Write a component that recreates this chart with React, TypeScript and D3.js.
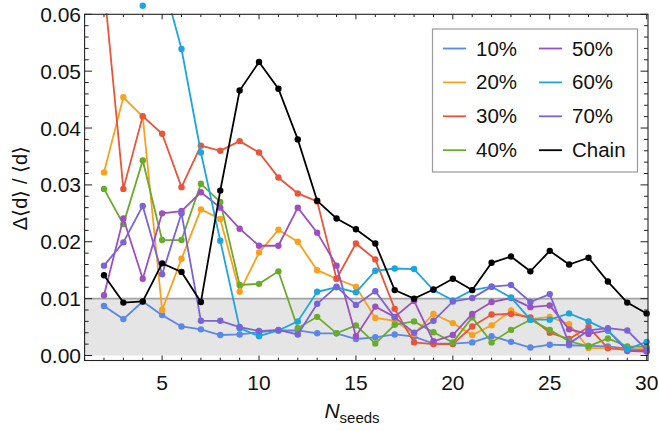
import React from "react";
import * as d3 from "d3";

const nSeeds = [2, 3, 4, 5, 6, 7, 8, 9, 10, 11, 12, 13, 14, 15, 16, 17, 18, 19, 20, 21, 22, 23, 24, 25, 26, 27, 28, 29, 30];

const p10 = [0.0087, 0.0064, 0.0095, 0.0071, 0.0051, 0.0046, 0.0036, 0.0037, 0.0041, 0.0044, 0.0044, 0.0039, 0.0039, 0.0029, 0.0032, 0.0037, 0.0033, 0.0021, 0.0021, 0.0023, 0.0034, 0.0024, 0.0014, 0.0019, 0.0018, 0.0017, 0.0016, 0.0012, 0.0009];
const p20 = [0.0322, 0.0454, 0.042, 0.008, 0.017, 0.0257, 0.024, 0.0112, 0.0181, 0.0221, 0.02, 0.015, 0.0135, 0.0121, 0.0066, 0.0061, 0.0038, 0.0073, 0.0057, 0.0036, 0.0053, 0.0079, 0.0064, 0.0068, 0.0055, 0.0013, 0.0013, 0.001, 0.0012];
const p30 = [0.065, 0.0293, 0.0421, 0.039, 0.0296, 0.0369, 0.036, 0.0377, 0.0357, 0.0313, 0.0285, 0.0271, 0.0135, 0.0197, 0.0169, 0.0082, 0.0023, 0.002, 0.002, 0.0051, 0.0072, 0.0073, 0.0067, 0.004, 0.0029, 0.005, 0.0013, 0.001, 0.0009];
const p40 = [0.0293, 0.0231, 0.0343, 0.0203, 0.0203, 0.0302, 0.027, 0.0124, 0.0126, 0.0148, 0.0048, 0.0068, 0.0039, 0.0053, 0.0021, 0.0054, 0.006, 0.0041, 0.0023, 0.0067, 0.0023, 0.0045, 0.0063, 0.0045, 0.0025, 0.0016, 0.003, 0.0016, 0.0015];
const p50 = [0.0106, 0.0241, 0.0135, 0.025, 0.0254, 0.0287, 0.026, 0.0223, 0.0193, 0.0193, 0.026, 0.0216, 0.0158, 0.0034, 0.0086, 0.0068, 0.0096, 0.0025, 0.0036, 0.0073, 0.0094, 0.0101, 0.0085, 0.0088, 0.0046, 0.0038, 0.0044, 0.0008, 0.0007];
const p60 = [0.085, 0.075, 0.0615, 0.0665, 0.0539, 0.0357, 0.0202, 0.0048, 0.0034, 0.0044, 0.006, 0.0112, 0.012, 0.0111, 0.0149, 0.0153, 0.0152, 0.0115, 0.0097, 0.0115, 0.0121, 0.0102, 0.0063, 0.0063, 0.0074, 0.006, 0.0044, 0.0011, 0.0024];
const p70 = [0.0158, 0.0199, 0.0263, 0.0143, 0.025, 0.0061, 0.0061, 0.005, 0.0043, 0.0045, 0.0037, 0.0091, 0.0121, 0.0089, 0.0113, 0.0067, 0.004, 0.0061, 0.0095, 0.0101, 0.0121, 0.0124, 0.0094, 0.0108, 0.0021, 0.0044, 0.0048, 0.0044, 0.001];
const chain = [0.0141, 0.0093, 0.0095, 0.0162, 0.0147, 0.0094, 0.029, 0.0466, 0.0516, 0.0469, 0.038, 0.0272, 0.0241, 0.0222, 0.0197, 0.0115, 0.01, 0.0116, 0.0135, 0.0115, 0.0163, 0.0174, 0.0148, 0.0184, 0.016, 0.0172, 0.013, 0.0093, 0.0074];

const seriesNames = ["10%", "20%", "30%", "40%", "50%", "60%", "70%", "Chain"];
const seriesValues = [p10, p20, p30, p40, p50, p60, p70, chain];
const colors = ["#5b87e8", "#f9a11b", "#ea5438", "#6aab2c", "#9c4fc0", "#1ca5e0", "#7a62d9", "#000000"];

const xMajor = [5, 10, 15, 20, 25, 30];
const yMajor = [0, 0.01, 0.02, 0.03, 0.04, 0.05, 0.06];
const band = [0, 0.01];

const W = 659, H = 431;
const left = 84.6, right = 648, top = 14.3, bottom = 360.5;
const font = "'Liberation Sans', Arial, sans-serif";

export default function App() {
  const x = d3.scaleLinear().domain([1, 30.07]).range([left, right]);
  const y = d3.scaleLinear().domain([-0.00088, 0.06]).range([bottom, top]);

  const line = d3
    .line<number>()
    .x((_, i) => x(nSeeds[i]))
    .y((d) => y(d));

  const xMinor = d3.range(1, 31).filter((v) => v % 5 !== 0);
  const yMinor = d3.range(0, 0.0601, 0.002).filter((v) => Math.abs(v * 100 - Math.round(v * 100)) > 1e-6);

  return (
    <svg width={W} height={H} style={{ position: "absolute", left: 0, top: 0, background: "#fff" }}>
      <defs>
        <clipPath id="plotClip">
          <rect x={left} y={top - 1} width={right - left} height={bottom - top + 1} />
        </clipPath>
      </defs>

      {/* shaded band below 1% */}
      <rect x={left} y={y(band[1])} width={right - left} height={y(band[0]) - y(band[1])} fill="#e5e5e5" />
      <line x1={left} x2={right} y1={y(band[1])} y2={y(band[1])} stroke="#a3a3a3" strokeWidth={1.6} />

      {/* series */}
      {seriesValues.map((vals, s) => (
        <g key={seriesNames[s]}>
          <path d={line(vals) ?? ""} fill="none" stroke={colors[s]} strokeWidth={1.8} clipPath="url(#plotClip)" />
          {vals.map((v, i) =>
            v <= 0.062 ? <circle key={i} cx={x(nSeeds[i])} cy={y(v)} r={3.2} fill={colors[s]} /> : null
          )}
        </g>
      ))}

      {/* frame */}
      <rect x={left} y={top} width={right - left} height={bottom - top} fill="none" stroke="#222" strokeWidth={1.1} />

      {/* x ticks */}
      {xMajor.map((t) => (
        <g key={"xM" + t}>
          <line x1={x(t)} x2={x(t)} y1={bottom} y2={bottom - 5} stroke="#222" />
          <line x1={x(t)} x2={x(t)} y1={top} y2={top + 5} stroke="#222" />
          <text x={x(t)} y={390} textAnchor="middle" fontFamily={font} fontSize={21} fill="#111">
            {t}
          </text>
        </g>
      ))}
      {xMinor.map((t) => (
        <g key={"xm" + t}>
          <line x1={x(t)} x2={x(t)} y1={bottom} y2={bottom - 2.8} stroke="#222" />
          <line x1={x(t)} x2={x(t)} y1={top} y2={top + 2.8} stroke="#222" />
        </g>
      ))}

      {/* y ticks */}
      {yMajor.map((t) => (
        <g key={"yM" + t}>
          <line x1={left} x2={left + 7.5} y1={y(t)} y2={y(t)} stroke="#222" />
          <line x1={right} x2={right - 7.5} y1={y(t)} y2={y(t)} stroke="#222" />
          <text x={81} y={y(t) + 7.5} textAnchor="end" fontFamily={font} fontSize={21} fill="#111">
            {d3.format(".2f")(t)}
          </text>
        </g>
      ))}
      {yMinor.map((t, i) => (
        <g key={"ym" + i}>
          <line x1={left} x2={left + 4} y1={y(t)} y2={y(t)} stroke="#222" />
          <line x1={right} x2={right - 4} y1={y(t)} y2={y(t)} stroke="#222" />
        </g>
      ))}

      {/* axis labels */}
      <text transform="rotate(-90)" x={-188} y={27} textAnchor="middle" fontFamily={font} fontSize={20} fill="#111">
        Δ⟨d⟩ / ⟨d⟩
      </text>
      <text x={352} y={418} textAnchor="middle" fontFamily={font} fontSize={21} fill="#111">
        <tspan fontStyle="italic">N</tspan>
        <tspan fontSize={15} dy={5}>seeds</tspan>
      </text>

      {/* legend */}
      <rect x={432.5} y={29} width={205} height={143} fill="#fff" stroke="#9a9a9a" strokeWidth={1.2} />
      {seriesNames.map((name, i) => {
        const col = Math.floor(i / 4);
        const row = i % 4;
        const lx = col === 0 ? 443 : 539;
        const ly = 48.5 + row * 33.9;
        return (
          <g key={"lg" + name}>
            <line x1={lx} x2={lx + 23} y1={ly} y2={ly} stroke={colors[i]} strokeWidth={1.8} />
            <text x={lx + 33} y={ly + 7} fontFamily={font} fontSize={20.5} fill="#111">
              {name}
            </text>
          </g>
        );
      })}
    </svg>
  );
}
